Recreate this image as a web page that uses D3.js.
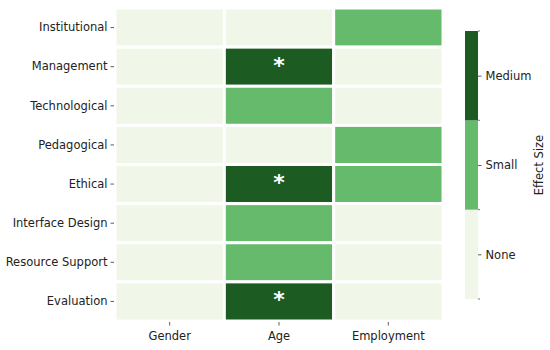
<!DOCTYPE html>
<html>
<head>
<meta charset="utf-8">
<script src="https://cdn.jsdelivr.net/npm/d3@7"></script>
<style>
  body { margin: 0; background: #fff; }
  text { font-family: "DejaVu Sans", sans-serif; fill: #222; }
</style>
</head>
<body>
<svg id="chart" width="550" height="350"></svg>
<script>
const dimensions = ["Institutional", "Management", "Technological", "Pedagogical",
    "Ethical", "Interface Design", "Resource Support", "Evaluation"];
const groups = ["Gender", "Age", "Employment"];
// effect size level: 0 = none, 1 = small, 2 = medium
const gender = [0, 0, 0, 0, 0, 0, 0, 0];
const age = [0, 2, 1, 0, 2, 1, 1, 2];
const employment = [1, 0, 0, 1, 1, 0, 0, 0];
const levels = ["None", "Small", "Medium"];
const colors = ["#f0f6e8", "#65ba6b", "#1c5c22"];

const series = [gender, age, employment];
const cells = [];
series.forEach((vals, j) => {
    vals.forEach((v, i) => cells.push({ row: dimensions[i], col: groups[j], v: v }));
});

const svg = d3.select("#chart");
const plotLeft = 115, plotRight = 443, plotTop = 8, plotBottom = 321;

const x = d3.scaleBand().domain(groups).range([plotLeft, plotRight]);
const y = d3.scaleBand().domain(dimensions).range([plotTop, plotBottom]);
const color = d3.scaleOrdinal().domain([0, 1, 2]).range(colors);

svg.append("g")
    .selectAll("rect")
    .data(cells)
    .join("rect")
    .attr("x", (d) => x(d.col))
    .attr("y", (d) => y(d.row))
    .attr("width", x.bandwidth())
    .attr("height", y.bandwidth())
    .attr("fill", (d) => color(d.v))
    .attr("stroke", "#fff")
    .attr("stroke-width", 3);

// significance markers on medium effects
svg.append("g")
    .selectAll("text")
    .data(cells.filter((d) => d.v === 2))
    .join("text")
    .attr("x", (d) => x(d.col) + x.bandwidth() / 2)
    .attr("y", (d) => y(d.row) + y.bandwidth() / 2 + 6)
    .attr("text-anchor", "middle")
    .style("fill", "#fff")
    .style("font-size", "22px")
    .style("font-weight", "bold")
    .text("*");

const yAxis = svg.append("g")
    .attr("transform", `translate(${plotLeft - 1},0)`)
    .call(d3.axisLeft(y).tickSize(3.5).tickPadding(3));
const xAxis = svg.append("g")
    .attr("transform", `translate(0,${plotBottom + 1})`)
    .call(d3.axisBottom(x).tickSize(3.5).tickPadding(6));
[xAxis, yAxis].forEach((a) => {
    a.select(".domain").remove();
    a.selectAll(".tick line").attr("stroke", "#333").attr("stroke-width", 0.8);
    a.selectAll("text").style("font-size", "11.5px").style("font-family", "DejaVu Sans").attr("fill", "#222");
});

// colorbar
const cbX = 465, cbW = 13;
const cb = d3.scaleLinear().domain([0, 3]).range([299, 31]);
svg.append("g")
    .selectAll("rect")
    .data(levels)
    .join("rect")
    .attr("x", cbX)
    .attr("y", (d, i) => cb(i + 1))
    .attr("width", cbW)
    .attr("height", (d, i) => cb(i) - cb(i + 1))
    .attr("fill", (d, i) => colors[i]);

const cbAxis = svg.append("g")
    .attr("transform", `translate(${cbX + cbW},0)`)
    .call(d3.axisRight(cb).tickValues([0.5, 1.5, 2.5]).tickFormat((d) => levels[Math.floor(d)]).tickSize(3.5).tickPadding(4));
cbAxis.select(".domain").remove();
cbAxis.selectAll(".tick line").attr("stroke", "#333").attr("stroke-width", 0.8);
cbAxis.selectAll("text").style("font-size", "11.5px").style("font-family", "DejaVu Sans").attr("fill", "#222");
// small ticks at the boundaries
svg.append("g")
    .selectAll("line")
    .data([0, 1, 2, 3])
    .join("line")
    .attr("x1", cbX + cbW)
    .attr("x2", cbX + cbW + 2)
    .attr("y1", (d) => cb(d))
    .attr("y2", (d) => cb(d))
    .attr("stroke", "#555")
    .attr("stroke-width", 0.8);

svg.append("text")
    .attr("transform", `translate(543,${(cb(0) + cb(3)) / 2}) rotate(-90)`)
    .attr("text-anchor", "middle")
    .style("font-size", "11.5px")
    .text("Effect Size");
</script>
</body>
</html>
